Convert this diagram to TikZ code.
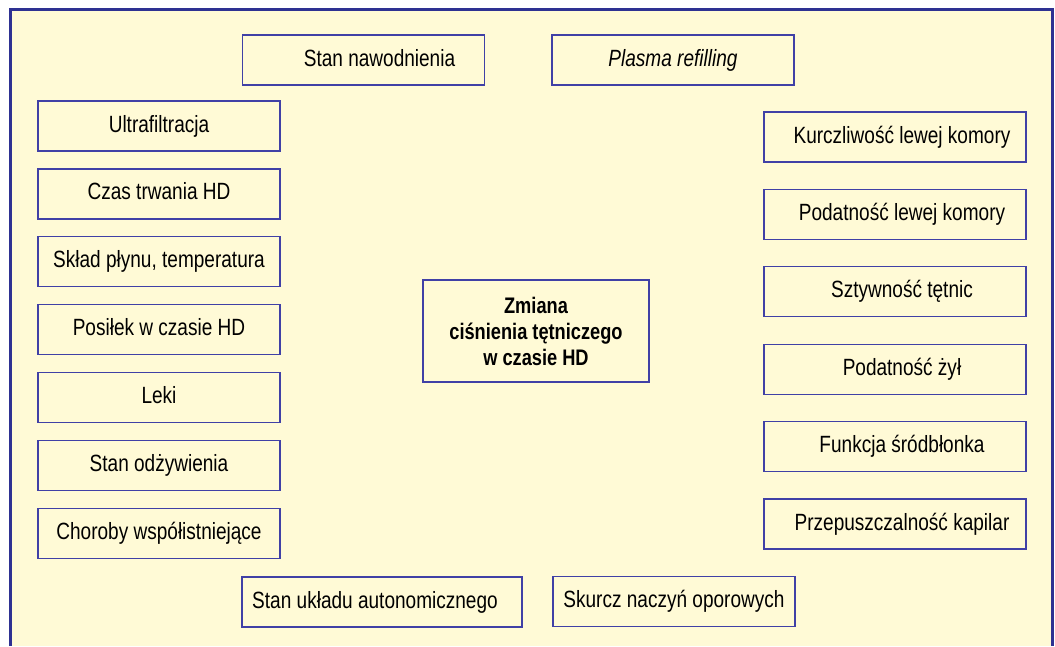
\documentclass[tikz,border=0pt]{standalone}
\usepackage{fontspec}
\setmainfont{Liberation Sans}[FakeStretch=0.81]
\usetikzlibrary{
  positioning
}
\usepackage{xcolor}
\definecolor{paleYellow}{RGB}{255,250,214}
\definecolor{boxBlue}{RGB}{64,64,166}
\definecolor{frameBlue}{RGB}{46,49,146}
\newcommand{\hdLeft}[3]{\node[lbox] (#2) [below=of #1] {#3};}
\newcommand{\hdRight}[3]{\node[rbox] (#2) [below=27.4pt of #1] {#3};}
\tikzset{
  factor/.style={
    draw=boxBlue,
    fill=paleYellow,
    line width=1.3pt,
    inner sep=0pt,
    outer sep=0pt,
    minimum height=50pt,
    minimum width=242pt,
    text height=17pt,
    text depth=5pt,
    font=\fontsize{23.5}{28}\selectfont
  },
  lbox/.style={factor},
  rbox/.style={factor, minimum width=262pt,
    execute at begin node={\hspace*{14pt}}},
  push right/.style={execute at begin node={\hspace*{#1}}},
  push left/.style={execute at end node={\hspace*{#1}}}
}

\begin{document}
\begin{tikzpicture}[
    x=1pt, y=-1pt,
    node distance=17.9pt
  ]
  \useasboundingbox (0,0) rectangle (1055,646);
  \fill[paleYellow] (10.5,9) rectangle (1052.5,646);
  \draw[frameBlue, line width=3pt] (10.5,646) -- (10.5,9) -- (1052.5,9) -- (1052.5,646);

  % top and bottom
  \node[factor, push right=32pt] (nawod) at (363.5,60) {Stan nawodnienia};
  \node[factor] (refill) at (673,60) {\itshape Plasma refilling};
  \node[factor, minimum width=280pt, push left=14pt] (autonom) at (382,602) {Stan układu autonomicznego};
  \node[factor] (skurcz) at (674,601.5) {Skurcz naczyń oporowych};

  % left column
  \node[lbox] (ultra) at (159,126) {Ultrafiltracja};
  \hdLeft{ultra}{czas}{Czas trwania HD}
  \hdLeft{czas}{sklad}{Skład płynu, temperatura}
  \hdLeft{sklad}{posilek}{Posiłek w czasie HD}
  \hdLeft{posilek}{leki}{Leki}
  \hdLeft{leki}{odzyw}{Stan odżywienia}
  \hdLeft{odzyw}{choroby}{Choroby współistniejące}

  % right column
  \node[rbox] (kurcz) at (895,137) {Kurczliwość lewej komory};
  \hdRight{kurcz}{podlk}{Podatność lewej komory}
  \hdRight{podlk}{sztyw}{Sztywność tętnic}
  \hdRight{sztyw}{podzyl}{Podatność żył}
  \hdRight{podzyl}{srodb}{Funkcja śródbłonka}
  \hdRight{srodb}{kapil}{Przepuszczalność kapilar}

  % centre
  \node[factor, minimum width=226pt, minimum height=102pt,
        text height=, text depth=, align=center,
        font=\bfseries\fontsize{22.5}{26}\selectfont] (zmiana) at (536,331)
    {Zmiana\\ciśnienia tętniczego\\w czasie HD};
\end{tikzpicture}
\end{document}
